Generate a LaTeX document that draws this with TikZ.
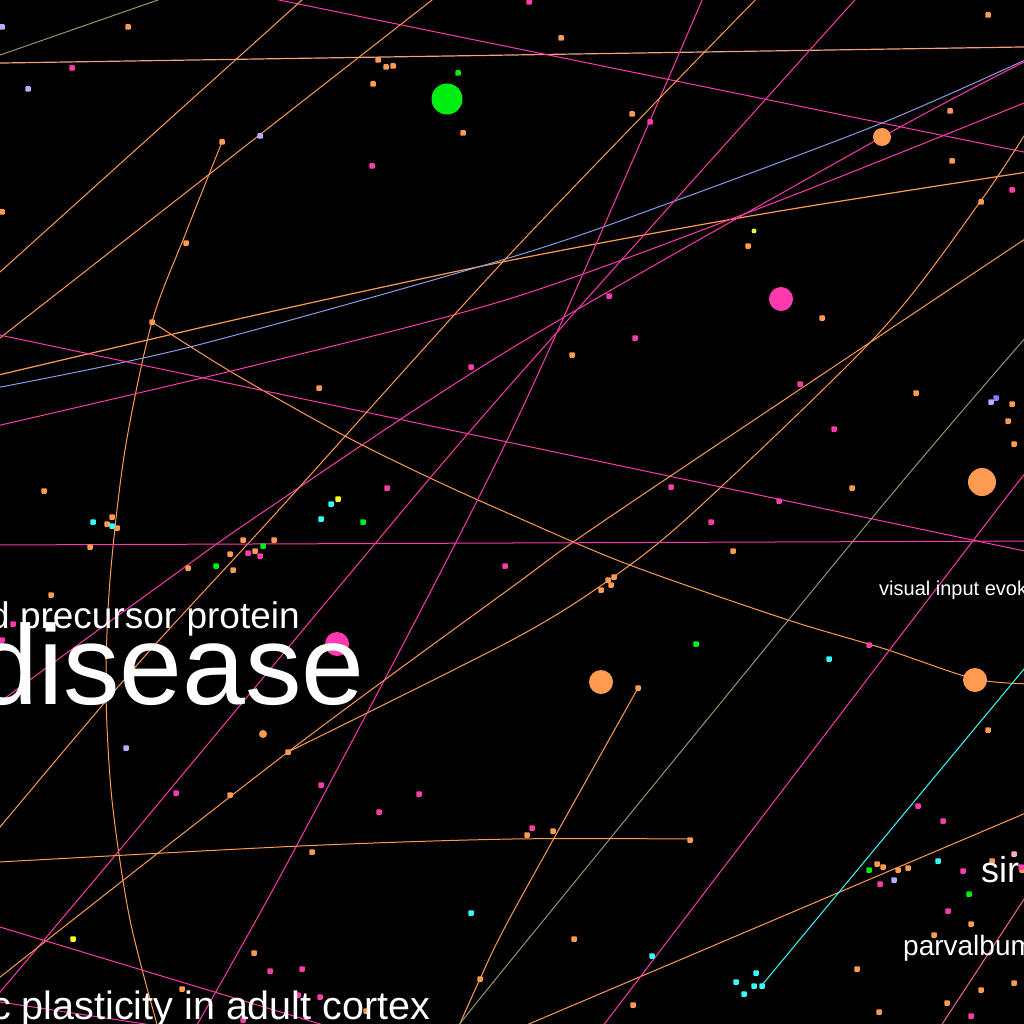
\documentclass[tikz,border=0pt]{standalone}
\usepackage{fontspec}
\newfontfamily\labfont{Liberation Sans}
\definecolor{cor}{HTML}{FF9B50}
\definecolor{cpk}{HTML}{FF3AAE}
\definecolor{cbl}{HTML}{8C9BE6}
\definecolor{col}{HTML}{8C9A6A}
\definecolor{csa}{HTML}{F2A07E}
\definecolor{ccy}{HTML}{33FFFF}
\definecolor{crd}{HTML}{F56A80}
\definecolor{clv}{HTML}{BBAAFF}
\definecolor{cgr}{HTML}{00EE11}
\definecolor{cye}{HTML}{FFFF22}
\definecolor{clp}{HTML}{FFAACC}
\definecolor{cpw}{HTML}{8877FF}
\definecolor{cyg}{HTML}{DDFF44}
\begin{document}
\begin{tikzpicture}[x=1pt,y=-1pt,
  edge/.style={line width=1pt},
  dot/.style={rectangle,rounded corners=0.8pt,inner sep=0pt,minimum size=5.5pt,draw=none},
  big/.style={circle,inner sep=0pt,draw=none},
  lab/.style={anchor=base west,inner sep=0pt,text=white}]
\fill[black] (0,0) rectangle (1024,1024);
\useasboundingbox (0,0) rectangle (1024,1024);
\begin{scope}
\clip (0,0) rectangle (1024,1024);
% edges
\draw[edge,col] (-20,62) -- (170,-4.2);
\draw[edge,csa,line width=1.2pt] (-10,63.2) -- (1034,46.8);
\draw[edge,cpk] (260,-3.9) -- (1040,155.3);
\draw[edge,cor] (-10,281) -- (312,-9);
\draw[edge,cor] (-10,345.8) -- (442,-7.8);
\draw[edge,cor] plot[smooth] coordinates {(222,142) (185,235) (152,322) (125,450) (110,580) (106,690) (112,800) (130,920) (160,1035)};
\draw[edge,cor] plot[smooth] coordinates {(152,322) (233,373) (343,435) (430,478) (512,515) (627,564) (785,619) (885,649) (975,679) (1035,684)};
\draw[edge,cor,line width=1.2pt] plot[smooth] coordinates {(-10,377) (256,315) (512,260) (768,213) (1034,171)};
\draw[edge,cbl] plot[smooth] coordinates {(-10,389) (190,347) (512,257) (672,202) (882,123) (1034,56)};
\draw[edge,cpk] (-10,333) -- (1034,553);
\draw[edge,cpk] plot[smooth] coordinates {(-10,427.5) (256,365) (512,298) (768,205) (1034,99)};
\draw[edge,cpk] plot[smooth] coordinates {(-10,709) (167,580) (263,512) (512,348) (882,137) (1034,57)};
\draw[edge,cpk] plot[smooth] coordinates {(862,-8) (512,383) (343,582) (118,852) (-10,1004)};
\draw[edge,cpk] plot[smooth] coordinates {(706,-9) (512,430) (297,845) (190,1037)};
\draw[edge,cor] plot[smooth] coordinates {(765,-10) (512,252) (277,512) (137,665) (-10,839)};
\draw[edge,cor] plot[smooth] coordinates {(1036,117) (980,202) (879,333) (694,512) (609,580) (512,640) (288,752)};
\draw[edge,cor] plot[smooth] coordinates {(-10,985) (288,752) (512,587) (617,512) (1034,233)};
\draw[edge,cor] plot[smooth] coordinates {(638,688) (512,914) (480,979) (455,1035)};
\draw[edge,col] plot[smooth] coordinates {(1034,328) (877,512) (512,959) (452,1034)};
\draw[edge,cpk] (-10,545) -- (1034,541);
\draw[edge,cor] plot[smooth] coordinates {(-10,862.5) (300,846) (512,839) (690,839)};
\draw[edge,cor] (1040,807) -- (510,1032);
\draw[edge,ccy] (1034,657) -- (762,985);
\draw[edge,crd] (1034,884) -- (935,1035);
\draw[edge,cpk] plot[smooth] coordinates {(1034,465) (995,512) (596,1035)};
\draw[edge,cpk] (-10,924) -- (330,1027);
\draw[edge,cpk] (-10,1000.5) -- (165,1027);
% small nodes
\foreach \x/\y [count=\i] in {128/27,378/60,386/67,393/66,373/84,463/133,222/142,2/212,186/243,152/322,319/388,44/491,
561/38,988/15,632/114,950/111,952/161,981/202,748/246,822/318,572/355,916/393,1012/404,1008/421,1014/444,852/488,
112/517,107/524,117/528,90/547,243/540,274/540,255/551,230/554,188/568,233/570,51/595,288/752,230/795,312/852,254/953,182/989,480/979,366/1011,
733/551,614/577,608/580,611/585,601/590,638/688,988/730,527/835,553/831,690/840,992/861,1022/870,877/864,883/867,898/870,908/868,971/924,934/935,574/939,857/969,1014/983,981/990,633/1005,947/1003,879/1012}
  \node[dot,fill=cor] (o\i) at (\x,\y) {};
\node[circle,inner sep=0pt,draw=none,fill=cor,minimum size=8pt] (o0) at (263,734) {};
\foreach \x/\y [count=\i] in {72/68,372/166,471/367,387/488,529/2,650/122,1012/190,609/296,635/338,800/384,834/429,671/487,779/501,
248/553,260/556,505/566,13/624,2/640,176/793,321/785,419/794,379/812,270/971,302/969,320/997,298/995,243/1020,
711/522,869/645,918/806,943/821,532/828,1021/867,963/871,880/884,948/911,971/1016}
  \node[dot,fill=cpk] (p\i) at (\x,\y) {};
\foreach \x/\y [count=\i] in {2/27,28/89,260/136,991/402,126/748,894/880}
  \node[dot,fill=clv] (l\i) at (\x,\y) {};
\node[dot,fill=cpw] (w1) at (996,398) {};
\foreach \x/\y [count=\i] in {458/73,363/522,263/546,216/566,696/644,869/870,969/894}
  \node[dot,fill=cgr] (g\i) at (\x,\y) {};
\foreach \x/\y [count=\i] in {331/504,93/522,112/526,321/519,471/913,829/659,938/861,652/956,756/973,736/982,754/986,762/986,744/994}
  \node[dot,fill=ccy] (c\i) at (\x,\y) {};
\node[dot,fill=cye] (y1) at (338,499) {};
\node[dot,fill=cye] (y2) at (73,939) {};
\node[circle,inner sep=0pt,draw=none,fill=cyg,minimum size=5pt] (y3) at (754,231) {};
\node[dot,fill=clp] (q1) at (1014,854) {};
% large nodes
\node[big,fill=cgr,minimum size=31pt] (G) at (447,99) {};
\node[big,fill=cor,minimum size=18pt] (A) at (882,137) {};
\node[big,fill=cpk,minimum size=24pt] (B) at (781,299) {};
\node[big,fill=cor,minimum size=28pt] (C) at (982,482) {};
\node[big,fill=cor,minimum size=24pt] (D) at (601,682) {};
\node[big,fill=cor,minimum size=24pt] (E) at (975,680) {};
\node[big,fill=cpk,minimum size=24pt] (F) at (337,644) {};
% labels
\node[lab,font=\labfont\fontsize{37}{40}\selectfont] (t1) at (-11,628) {d precursor protein};
\node[lab,font=\labfont\fontsize{113}{120}\selectfont] (t2) at (-25,704) {disease};
\node[lab,font=\labfont\fontsize{20}{23}\selectfont] (t3) at (879,595) {visual input evok};
\node[lab,font=\labfont\fontsize{36}{40}\selectfont] (t4) at (981,882) {sir};
\node[lab,font=\labfont\fontsize{28}{31}\selectfont] (t5) at (903,955) {parvalbum};
\node[lab,font=\labfont\fontsize{39.5}{42}\selectfont] (t6) at (-9,1019) {c plasticity in adult cortex};
\end{scope}
\end{tikzpicture}
\end{document}
